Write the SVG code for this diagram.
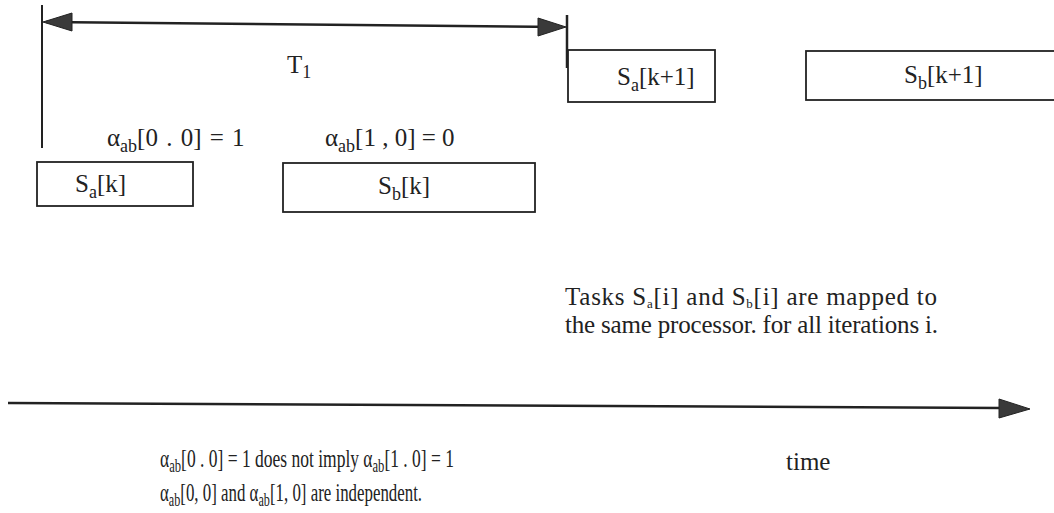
<svg xmlns="http://www.w3.org/2000/svg" width="1054" height="513" viewBox="0 0 1054 513">
<style>
text{font-family:"Liberation Serif","Times New Roman",serif;font-size:25px;fill:#222}
.sub{font-size:18px}
.box{fill:#fff;stroke:#222;stroke-width:1.8}
.ln{stroke:#222;fill:none}
.ah{fill:#3a3a3a;stroke:#222;stroke-width:1}
</style>
<rect width="1054" height="513" fill="#fff"/>
<g id="connectors">
<line class="ln" x1="42" y1="5" x2="42" y2="148" stroke-width="2"/>
<line class="ln" x1="46" y1="22" x2="562" y2="27" stroke-width="2.5"/>
<polygon class="ah" points="43,22 72,13 72,31"/>
<polygon class="ah" points="566,27 538,18 538,36"/>
<line class="ln" x1="567" y1="15" x2="567" y2="68" stroke-width="2.5"/>
<line class="ln" x1="8" y1="403" x2="1002" y2="408" stroke-width="2.5"/>
<polygon class="ah" points="1030,409 999,399 999,418"/>
</g>
<g id="T1"><text x="287" y="73">T<tspan class="sub" dy="5">1</tspan></text></g>
<g id="Sa_k1"><rect class="box" x="568" y="50" width="147" height="52"/><text x="617" y="85" font-size="26">S<tspan class="sub" dy="6">a</tspan><tspan dy="-6">[k+1]</tspan></text></g>
<g id="Sb_k1"><rect class="box" x="806" y="51" width="260" height="49"/><text x="904" y="83" font-size="26">S<tspan class="sub" dy="6">b</tspan><tspan dy="-6">[k+1]</tspan></text></g>
<g id="alpha00"><text x="107" y="146" font-size="26" word-spacing="2">α<tspan class="sub" dy="6">ab</tspan><tspan dy="-6">[0 . 0] = 1</tspan></text></g>
<g id="alpha10"><text x="325" y="146" font-size="26">α<tspan class="sub" dy="6">ab</tspan><tspan dy="-6">[1 , 0] = 0</tspan></text></g>
<g id="Sa_k"><rect class="box" x="37" y="162" width="156" height="44"/><text x="75" y="192" font-size="26">S<tspan class="sub" dy="6">a</tspan><tspan dy="-6">[k]</tspan></text></g>
<g id="Sb_k"><rect class="box" x="283" y="163" width="252" height="49"/><text x="378" y="194" font-size="26">S<tspan class="sub" dy="6">b</tspan><tspan dy="-6">[k]</tspan></text></g>
<g id="note">
<text x="565" y="305" font-size="21" textLength="372">Tasks S<tspan dy="3" font-size="13">a</tspan><tspan dy="-3">[i] and S</tspan><tspan dy="3" font-size="13">b</tspan><tspan dy="-3">[i] are mapped to</tspan></text>
<text x="565" y="333" font-size="21" textLength="373">the same processor. for all iterations i.</text>
</g>
<g id="bottom">
<text transform="translate(160,467) scale(0.70,1)" x="0" y="0" font-size="25">α<tspan dy="5" font-size="18">ab</tspan><tspan dy="-5">[0 . 0] = 1 does not imply α</tspan><tspan dy="5" font-size="18">ab</tspan><tspan dy="-5">[1 . 0] = 1</tspan></text>
<text transform="translate(160,501) scale(0.675,1)" x="0" y="0" font-size="25">α<tspan dy="5" font-size="18">ab</tspan><tspan dy="-5">[0, 0] and α</tspan><tspan dy="5" font-size="18">ab</tspan><tspan dy="-5">[1, 0] are independent.</tspan></text>
<text x="786" y="470" font-size="24">time</text>
</g>
</svg>
